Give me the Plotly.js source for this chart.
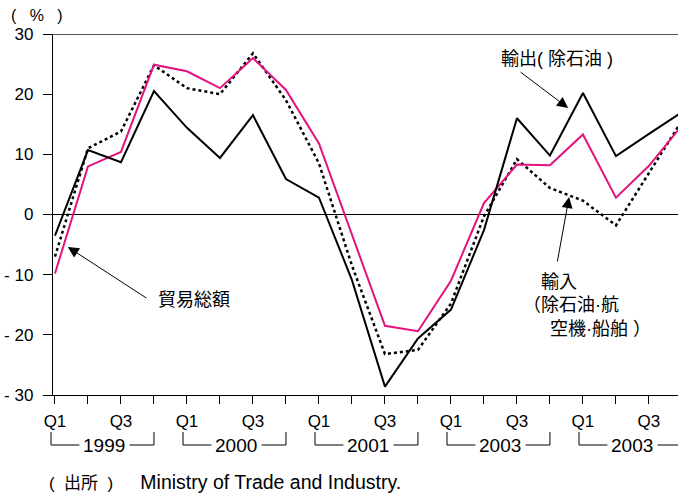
<!DOCTYPE html>
<html>
<head>
<meta charset="utf-8">
<script src="https://cdn.plot.ly/plotly-3.0.1.min.js"></script>
<style>
html,body{margin:0;padding:0;background:#fff;}
#chart{width:678px;height:496px;}
</style>
</head>
<body>
<div id="chart"></div>
<script>
// Quarters 1999Q1 .. 2003Q4 (index 0..19)
const quarterLabels = ["Q1","","Q3","","Q1","","Q3","","Q1","","Q3","","Q1","","Q3","","Q1","","Q3",""];
const yearLabels = ["1999","2000","2001","2003","2003"];
// 輸出（除石油）
const exportsExOil = [-3.5, 10.7, 8.7, 20.5, 14.4, 9.4, 16.5, 5.9, 2.8, -10.9, -28.6, -20.6, -15.8, -2.6, 16.0, 9.8, 20.2, 9.7, 13.4, 17.0];
// 貿易総額
const tradeTotal = [-9.8, 8.0, 10.4, 24.9, 23.8, 21.0, 26.0, 20.7, 11.8, -3.5, -18.5, -19.4, -11.0, 1.9, 8.3, 8.2, 13.3, 2.8, 8.1, 14.8];
// 輸入（除石油・航空機・船舶）
const importsEx = [-7.0, 11.0, 13.8, 24.8, 21.0, 20.0, 26.8, 19.0, 8.5, -8.5, -23.2, -22.5, -14.8, -0.3, 9.2, 4.4, 2.3, -1.8, 6.9, 15.6];
const yTickVals = [30, 20, 10, 0, -10, -20, -30];
const yTickText = ["30", "20", "10", "0", "- 10", "- 20", "- 30"];

const idx = quarterLabels.map((_, i) => i);
const FONT = "Liberation Sans, Arial, Noto Sans CJK JP, sans-serif";
const XRANGE = [-0.06, 18.88];
const toPaperX = v => (v - XRANGE[0]) / (XRANGE[1] - XRANGE[0]);

const traces = [
  {x: idx, y: importsEx, mode: "lines", line: {color: "#000", width: 2.5, dash: "dot"}, hoverinfo: "skip"},
  {x: idx, y: tradeTotal, mode: "lines", line: {color: "#e3127e", width: 2}, hoverinfo: "skip"},
  {x: idx, y: exportsExOil, mode: "lines", line: {color: "#000", width: 2}, hoverinfo: "skip"}
];

const shapes = [
  {type: "line", xref: "paper", yref: "y", x0: 0, x1: 1, y0: 30, y1: 30, line: {color: "#555", width: 2}}
];
const annotations = [];
const yBr = -0.1385, yTop = -0.1025;
yearLabels.forEach((yr, k) => {
  const s = 4 * k;
  const L = toPaperX(s - 0.12), R = toPaperX(s + 3);
  const a = toPaperX(s + 0.74), b = toPaperX(s + 2.26);
  const seg = (x0, y0, x1, y1) => shapes.push({type: "line", xref: "paper", yref: "paper", x0, y0, x1, y1, line: {color: "#000", width: 1}});
  seg(L, yTop, L, yBr);
  seg(L, yBr, a, yBr);
  seg(b, yBr, R, yBr);
  seg(R, yBr, R, yTop);
  annotations.push({xref: "x", yref: "paper", x: s + 1.5, y: -0.140, text: yr, showarrow: false,
    xanchor: "center", yanchor: "middle", font: {family: FONT, size: 19, color: "#000"}});
});

// series labels
annotations.push({xref: "x", yref: "y", x: 15.21, y: 25.85, text: "輸出( 除石油 )", showarrow: false,
  xanchor: "center", yanchor: "middle", font: {family: FONT, size: 18, color: "#000"}});
annotations.push({xref: "x", yref: "y", x: 15.55, y: 17.7, text: "", showarrow: true, arrowhead: 2, arrowsize: 2.2, arrowwidth: 1,
  arrowcolor: "#000", ax: -49, ay: -37, standoff: 0});
annotations.push({xref: "x", yref: "y", x: 3.06, y: -14.2, text: "貿易総額", showarrow: false,
  xanchor: "left", yanchor: "middle", font: {family: FONT, size: 18, color: "#000"}});
annotations.push({xref: "x", yref: "y", x: 0.39, y: -5.4, text: "", showarrow: true, arrowhead: 2, arrowsize: 2.2, arrowwidth: 1,
  arrowcolor: "#000", ax: 80, ay: 52, standoff: 0});
annotations.push({xref: "x", yref: "y", x: (521 - 55) / 33, y: -15.2,
  text: "\u3000輸入<br>（除石油·航<br>\u3000\u2002空機·船舶 ）", showarrow: false, align: "left",
  xanchor: "left", yanchor: "middle", font: {family: FONT, size: 18, color: "#000"}});
annotations.push({xref: "x", yref: "y", x: 15.58, y: 2.9, text: "", showarrow: true, arrowhead: 2, arrowsize: 2.2, arrowwidth: 1,
  arrowcolor: "#000", ax: -12, ay: 66, standoff: 0});

// unit & source
annotations.push({xref: "paper", yref: "paper", x: (37 - 53) / 625, y: (395 - 15.5) / 361,
  text: "(&nbsp;&nbsp;&nbsp;%&nbsp;&nbsp;&nbsp;)", showarrow: false, borderpad: 0,
  xanchor: "center", yanchor: "middle", font: {family: FONT, size: 16, color: "#000"}});
annotations.push({xref: "paper", yref: "paper", x: (47 - 53) / 625, y: (395 - 481.5) / 361,
  text: "(&nbsp;&nbsp;出所&nbsp;&nbsp;)<span style=\"font-size:19.5px\">&nbsp;&nbsp;&nbsp;&nbsp;&nbsp;Ministry of Trade and Industry.</span>",
  showarrow: false, xanchor: "left", yanchor: "middle",
  font: {family: FONT, size: 17, color: "#000"}});

const layout = {
  width: 678, height: 496,
  margin: {l: 53, r: 0, t: 34, b: 101, pad: 0},
  paper_bgcolor: "#fff", plot_bgcolor: "#fff",
  showlegend: false,
  font: {family: FONT, size: 17, color: "#000"},
  xaxis: {
    range: XRANGE, tickmode: "array", tickvals: idx, ticktext: quarterLabels,
    ticks: "outside", ticklen: 8, tickwidth: 1, tickcolor: "#000",
    showline: true, linecolor: "#000", linewidth: 1.2, showgrid: false, zeroline: false,
    ticklabelstandoff: 2,
    tickfont: {family: FONT, size: 17, color: "#000"}, fixedrange: true
  },
  yaxis: {
    range: [-30, 30], tickmode: "array", tickvals: yTickVals, ticktext: yTickText,
    ticks: "outside", ticklen: 9, tickwidth: 1, tickcolor: "#000",
    showline: true, linecolor: "#000", linewidth: 1.2, showgrid: false,
    zeroline: true, zerolinecolor: "#000", zerolinewidth: 1,
    ticklabelstandoff: 6,
    tickfont: {family: FONT, size: 17, color: "#000"}, fixedrange: true
  },
  shapes: shapes,
  annotations: annotations
};

Plotly.newPlot("chart", traces, layout, {staticPlot: true, displayModeBar: false});
</script>
</body>
</html>
